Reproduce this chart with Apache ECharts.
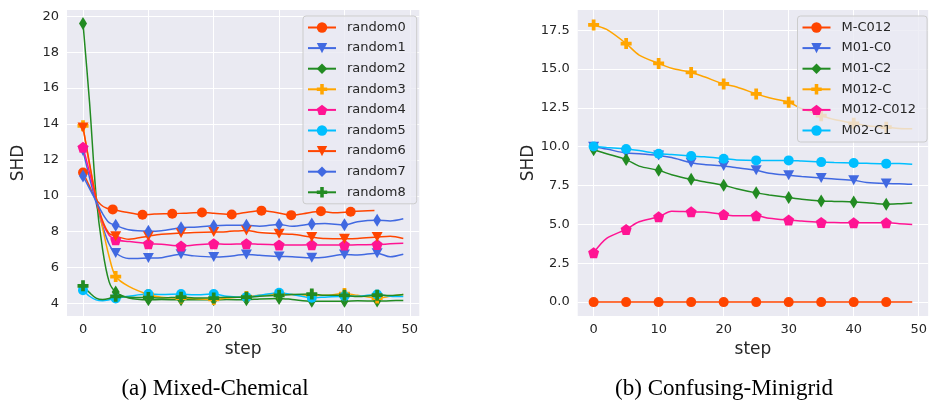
<!DOCTYPE html>
<html>
<head>
<meta charset="utf-8">
<script src="https://cdn.jsdelivr.net/npm/echarts@6/dist/echarts.min.js"></script>
<style>
html,body{margin:0;padding:0;background:#fff;}
#chart{width:930px;height:402px;}
</style>
</head>
<body>
<div id="chart"></div>
<script>
// ---------- DATA ----------
const leftSteps = [0,1,2,3,4,5,7,10,12,15,17,20,22,25,27,30,32,35,37,40,42,45,47,49];
const random0Steps = [0,0.91,1.82,2.73,3.64,4.55,6.37,9.1,10.92,13.65,15.47,18.2,20.02,22.75,24.57,27.3,29.12,31.85,33.67,36.4,38.22,40.95,42.77,44.59];
const leftMarkerSteps = [0,5,10,15,20,25,30,35,40,45];
const random0MarkerSteps = [0,4.55,9.1,13.65,18.2,22.75,27.3,31.85,36.4,40.95];

const random0 = [11.3,10.6,9.9,9.5,9.3,9.24,9.1,8.94,8.98,9.0,9.03,9.07,9.03,8.96,9.05,9.17,9.1,8.92,9.0,9.14,9.05,9.11,9.15,9.18];
const random1 = [12.5,11.0,9.6,8.3,7.3,6.81,6.5,6.53,6.55,6.74,6.65,6.59,6.62,6.72,6.68,6.62,6.6,6.55,6.58,6.72,6.7,6.8,6.6,6.74];
const random2 = [19.6,15.2,10.0,7.0,5.2,4.64,4.3,4.2,4.22,4.2,4.2,4.2,4.22,4.2,4.25,4.28,4.22,4.12,4.12,4.12,4.15,4.13,4.15,4.17];
const random3 = [13.9,11.7,9.9,8.2,6.6,5.5,4.95,4.5,4.35,4.3,4.28,4.22,4.3,4.38,4.45,4.52,4.5,4.45,4.45,4.55,4.45,4.3,4.4,4.5];
const random4 = [12.7,11.3,9.8,8.5,7.8,7.55,7.45,7.33,7.3,7.2,7.25,7.33,7.3,7.33,7.3,7.26,7.25,7.27,7.25,7.25,7.27,7.28,7.32,7.35];
const random5 = [4.74,4.4,4.2,4.15,4.2,4.28,4.4,4.52,4.5,4.52,4.48,4.52,4.4,4.35,4.45,4.6,4.5,4.32,4.35,4.4,4.4,4.5,4.4,4.38];
const random6 = [13.8,11.8,9.9,8.6,7.9,7.75,7.58,7.75,7.85,7.93,7.95,7.98,8.0,8.07,7.95,7.88,7.85,7.7,7.62,7.61,7.62,7.7,7.75,7.62];
const random7 = [11.1,10.4,9.7,9.0,8.5,8.35,8.1,8.02,8.05,8.22,8.25,8.33,8.35,8.35,8.3,8.4,8.3,8.42,8.45,8.38,8.55,8.63,8.6,8.72];
const random8 = [4.98,4.6,4.3,4.22,4.28,4.4,4.35,4.33,4.3,4.35,4.3,4.3,4.35,4.35,4.4,4.45,4.5,4.52,4.45,4.45,4.38,4.46,4.44,4.5];

const rightSteps = [0,2,5,7,10,12,15,17,20,22,25,27,30,32,35,37,40,42,45,47,49];
const rightMarkerSteps = [0,5,10,15,20,25,30,35,40,45];
const mC012   = [0,0,0,0,0,0,0,0,0,0,0,0,0,0,0,0,0,0,0,0,0];
const m01C0   = [10.0,9.85,9.59,9.55,9.44,9.3,8.97,8.85,8.76,8.65,8.48,8.3,8.16,8.08,7.99,7.92,7.84,7.7,7.63,7.62,7.58];
const m01C2   = [9.81,9.55,9.17,8.75,8.48,8.2,7.9,7.75,7.52,7.3,7.03,6.9,6.73,6.62,6.51,6.48,6.45,6.4,6.3,6.33,6.38];
const m012C   = [17.84,17.55,16.64,15.9,15.36,15.05,14.78,14.5,14.04,13.85,13.4,13.15,12.86,12.45,12.0,11.75,11.51,11.35,11.26,11.18,11.15];
const m012C012= [3.18,4.1,4.68,5.17,5.49,5.85,5.81,5.8,5.64,5.55,5.55,5.4,5.28,5.22,5.13,5.12,5.1,5.1,5.1,5.05,5.0];
const m02C1   = [10.02,9.95,9.85,9.75,9.55,9.5,9.4,9.35,9.23,9.15,9.12,9.12,9.12,9.08,9.01,8.98,8.95,8.93,8.91,8.92,8.87];

const leftYTicks = [4,6,8,10,12,14,16,18,20];
const rightYTicks = [0,2.5,5,7.5,10,12.5,15,17.5];
const xTicks = [0,10,20,30,40,50];
const captions = ['(a) Mixed-Chemical', '(b) Confusing-Minigrid'];

// ---------- STYLE ----------
const C = {orangered:'#FF4500', royalblue:'#4169E1', forestgreen:'#228B22', orange:'#FFA500', deeppink:'#FF1493', deepskyblue:'#00BFFF'};
const SYM = {
  o: {symbol:'circle', size:10, rotate:0},
  v: {symbol:'triangle', size:[11,10], rotate:180},
  d: {symbol:'diamond', size:[8,13], rotate:0},
  P: {symbol:'path://M3.3,0 H6.7 V3.3 H10 V6.7 H6.7 V10 H3.3 V6.7 H0 V3.3 H3.3 Z', size:11, rotate:0},
  p: {symbol:'path://M5,0 L10,3.6 L8.1,9.5 L1.9,9.5 L0,3.6 Z', size:11, rotate:0}
};
const FONT = 'DejaVu Sans';
const TXT = '#262626';

function mk(name, steps, vals, markerSteps, color, m, ax) {
  const s = SYM[m];
  return {
    name, type:'line', xAxisIndex:ax, yAxisIndex:ax,
    smooth:0.3, symbol:s.symbol, symbolSize:s.size, symbolRotate:s.rotate,
    showSymbol:true, showAllSymbol:true,
    lineStyle:{color, width:1.5}, itemStyle:{color, borderWidth:0},
    emphasis:{disabled:true}, animation:false,
    data: steps.map((x,i)=> markerSteps.includes(x) ? {value:[x, vals[i]]} : {value:[x, vals[i]], symbol:'none'})
  };
}

const series = [
  mk('random0', random0Steps, random0, random0MarkerSteps, C.orangered, 'o', 0),
  mk('random1', leftSteps, random1, leftMarkerSteps, C.royalblue, 'v', 0),
  mk('random2', leftSteps, random2, leftMarkerSteps, C.forestgreen, 'd', 0),
  mk('random3', leftSteps, random3, leftMarkerSteps, C.orange, 'P', 0),
  mk('random4', leftSteps, random4, leftMarkerSteps, C.deeppink, 'p', 0),
  mk('random5', leftSteps, random5, leftMarkerSteps, C.deepskyblue, 'o', 0),
  mk('random6', leftSteps, random6, leftMarkerSteps, C.orangered, 'v', 0),
  mk('random7', leftSteps, random7, leftMarkerSteps, C.royalblue, 'd', 0),
  mk('random8', leftSteps, random8, leftMarkerSteps, C.forestgreen, 'P', 0),
  mk('M-C012', rightSteps, mC012, rightMarkerSteps, C.orangered, 'o', 1),
  mk('M01-C0', rightSteps, m01C0, rightMarkerSteps, C.royalblue, 'v', 1),
  mk('M01-C2', rightSteps, m01C2, rightMarkerSteps, C.forestgreen, 'd', 1),
  mk('M012-C', rightSteps, m012C, rightMarkerSteps, C.orange, 'P', 1),
  mk('M012-C012', rightSteps, m012C012, rightMarkerSteps, C.deeppink, 'p', 1),
  mk('M02-C1', rightSteps, m02C1, rightMarkerSteps, C.deepskyblue, 'o', 1)
];

function xAxis(idx) {
  return {
    type:'value', gridIndex:idx, min:-2.45, max:51.45,
    name:'step', nameLocation:'middle', nameGap:24,
    nameTextStyle:{fontFamily:FONT, fontSize:17, color:TXT},
    axisLine:{show:false}, axisTick:{show:false, customValues:xTicks},
    axisLabel:{customValues:xTicks, fontFamily:FONT, fontSize:13, color:TXT, margin:7},
    splitLine:{show:true, lineStyle:{color:'#ffffff', width:1}}
  };
}
function yAxis(idx, min, max, ticks, fmt) {
  return {
    type:'value', gridIndex:idx, min, max,
    name:'SHD', nameLocation:'middle', nameGap:40,
    nameTextStyle:{fontFamily:FONT, fontSize:17, color:TXT},
    axisLine:{show:false}, axisTick:{show:false, customValues:ticks},
    axisLabel:{customValues:ticks, fontFamily:FONT, fontSize:13, color:TXT, margin:8, formatter:fmt},
    splitLine:{show:true, lineStyle:{color:'#ffffff', width:1}}
  };
}
function legend(names, left) {
  return {
    data:names, orient:'vertical', left, top:16,
    itemWidth:28, itemHeight:13, itemGap:7.6,
    padding:[5,11,5,4],
    backgroundColor:'rgba(234,234,242,0.8)', borderColor:'#cccccc', borderWidth:1, borderRadius:3,
    textStyle:{fontFamily:FONT, fontSize:13, color:TXT, padding:[0,0,0,6]},
    selectedMode:false, z:10
  };
}

const option = {
  animation:false,
  backgroundColor:'#ffffff',
  grid:[
    {left:67, top:10, width:352.3, height:306, show:true, backgroundColor:'#EAEAF2', borderWidth:0},
    {left:577.7, top:10, width:353.5, height:306, show:true, backgroundColor:'#EAEAF2', borderWidth:0}
  ],
  xAxis:[xAxis(0), xAxis(1)],
  yAxis:[
    yAxis(0, 3.3, 20.35, leftYTicks, v => String(v)),
    yAxis(1, -0.895, 18.8, rightYTicks, v => v.toFixed(1))
  ],
  legend:[
    legend(['random0','random1','random2','random3','random4','random5','random6','random7','random8'], 303),
    legend(['M-C012','M01-C0','M01-C2','M012-C','M012-C012','M02-C1'], 797.5)
  ],
  graphic:[
    {type:'text', x:215, y:389, style:{text:captions[0], fill:'#000', font:'23px "Liberation Serif"', textAlign:'center', textVerticalAlign:'middle'}},
    {type:'text', x:724, y:389, style:{text:captions[1], fill:'#000', font:'23px "Liberation Serif"', textAlign:'center', textVerticalAlign:'middle'}}
  ],
  series
};

const chart = echarts.init(document.getElementById('chart'), null, {renderer:'canvas'});
chart.setOption(option);
</script>
</body>
</html>
